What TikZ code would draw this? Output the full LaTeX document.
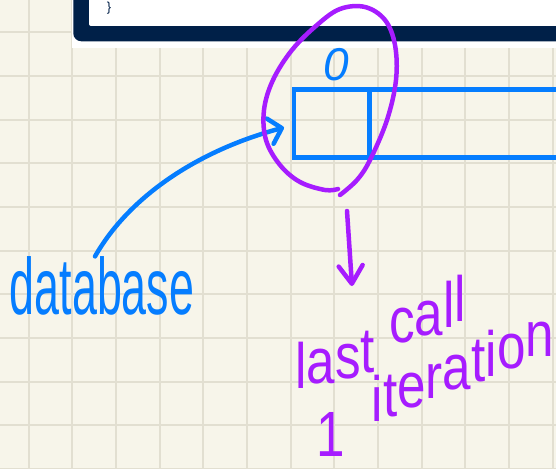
\documentclass[tikz,border=0pt]{standalone}
\usepackage{fontspec}
\setmainfont{Liberation Sans}
\usetikzlibrary{arrows.meta}

\definecolor{paper}{RGB}{247,245,234}
\definecolor{gridline}{RGB}{226,223,209}
\definecolor{navy}{RGB}{0,32,72}
\definecolor{inkblue}{RGB}{5,125,255}
\definecolor{inkpurple}{RGB}{166,28,255}

% letter lifted by a given amount, for words written on a rising line
\newcommand\lift[2]{\raisebox{#1pt}{#2}}

\tikzset{
  gridrule/.style={gridline, line width=2pt},
  bluestroke/.style={inkblue, line width=4.5pt, line cap=round, line join=round},
  purplestroke/.style={inkpurple, line width=4.5pt, line cap=round, line join=round},
  slotbox/.style={draw=inkblue, line width=4.5pt, rectangle, inner sep=0pt, outer sep=0pt, anchor=north west},
  inkblueword/.style={inkblue, inner sep=0pt},
  inkpurpleword/.style={inkpurple, inner sep=0pt, anchor=base west, xscale=0.8, font=\fontsize{64}{64}\selectfont},
}

\begin{document}
\begin{tikzpicture}[x=1pt, y=-1pt]
  \useasboundingbox (0,0) rectangle (556,468);
  \clip (0,0) rectangle (556,468);

  % squared paper
  \fill[paper] (0,0) rectangle (556,468);
  \foreach \k in {0,...,12}
    \draw[gridrule] ({28.7+43.65*\k},0) -- ({28.7+43.65*\k},468);
  \foreach \k in {0,...,10}
    \draw[gridrule] (0,{32.5+43.65*\k}) -- (556,{32.5+43.65*\k});

  % code window at the top
  \fill[white] (71.7,-10) rectangle (600,48.3);
  \fill[navy, rounded corners=8pt] (73.3,-20) rectangle (600,41.3);
  \fill[white, rounded corners=2pt] (89,-20) rectangle (600,26);
  \node[navy, inner sep=0pt, font=\fontsize{13}{13}\selectfont] (brace) at (109,8) {\}};

  % array cells
  \node[slotbox, minimum width=75.5pt, minimum height=68pt] (cell0) at (294,89.5) {};
  \node[slotbox, minimum width=260pt, minimum height=68pt] (rest) at (369.5,89.5) {};
  \node[inkblueword, font=\fontsize{46}{46}\selectfont\itshape] (idx) at (336,65) {0};

  % label pointing at the first cell
  \node[inkblueword, font=\fontsize{80}{80}\selectfont, xscale=0.56] (database) at (102,286) {database};
  \draw[bluestroke, -{Straight Barb[length=12pt, width=26pt, round]}]
    ([xshift=-7pt]database.north) .. controls (130,195) and (200,150) .. ([xshift=-10pt, yshift=-4pt]cell0.west);

  % loop round the first cell
  \draw[purplestroke] plot[smooth, tension=0.6] coordinates {
    (340,195) (357,180) (370,160) (387,120) (396,80) (395,45) (385,20)
    (365,7) (340,9) (317,25) (292,50) (273,80) (264,110) (266,140)
    (280,165) (300,182) (325,190) (338,189)};

  % note below
  \coordinate (loopfoot) at (347,211);
  \coordinate (notetop) at (352,286);
  \draw[purplestroke, -{Straight Barb[length=18pt, width=24pt, round]}] (loopfoot) -- (notetop);
  \node[inkpurpleword] (lastcall) at (295,388)
    {l\lift{5}{a}\lift{10}{s}\lift{16}{t} \lift{46}{c}\lift{53}{a}\lift{61}{l}\lift{67}{l}};
  \node[inkpurpleword] (iter) at (316,456)
    {1\hspace{34pt}\lift{35}{i}\lift{40}{t}\lift{49}{e}\lift{58}{r}\lift{67}{a}\lift{75}{t}\lift{80}{i}\lift{88}{o}\lift{100}{n}};
\end{tikzpicture}
\end{document}
